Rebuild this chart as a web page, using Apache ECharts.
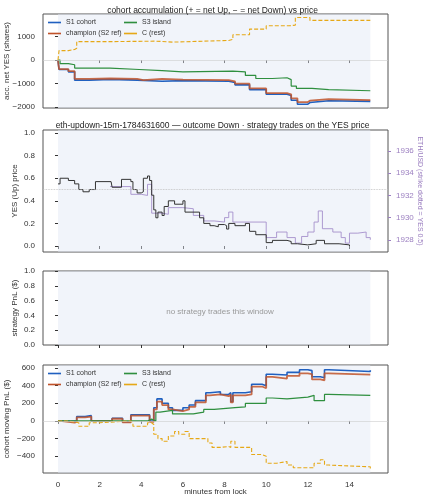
<!DOCTYPE html>
<html><head><meta charset="utf-8">
<script src="https://cdn.jsdelivr.net/npm/echarts@6/dist/echarts.min.js"></script>
<style>html,body{margin:0;padding:0;background:#fff}#c{width:425px;height:500px}</style>
</head><body><div id="c"></div>
<script>
const xTicks=[0,2,4,6,8,10,12,14];
// panel 1: accumulated net YES shares [minute, shares]
const accS1=[[0,0],[0.05,-400],[0.5,-500],[0.8,-850],[1.5,-820],[2.5,-850],[3.8,-900],[5,-870],[6,-900],[8.2,-950],[8.5,-1050],[9.2,-1250],[10,-1450],[11,-1500],[11.2,-1700],[11.5,-1870],[12,-1800],[12.1,-1720],[13,-1750],[15,-1760]];
const accChamp=[[0,0],[0.05,-380],[0.5,-470],[0.8,-800],[1.5,-780],[2.5,-800],[3.8,-850],[4.1,-800],[5,-830],[6,-850],[8.2,-900],[8.5,-1000],[9.2,-1200],[10,-1400],[11,-1450],[11.2,-1620],[11.5,-1780],[12,-1720],[12.1,-1650],[13,-1700],[15,-1700]];
const accS3=[[0,0],[0.1,-150],[0.5,-200],[0.8,-340],[2.5,-400],[3.9,-450],[5,-500],[6,-470],[8.4,-500],[9,-650],[9.5,-780],[10.3,-750],[11,-830],[11.2,-1100],[11.45,-1200],[12.2,-1250],[13,-1300],[15,-1300]];
const accC=[[0,0],[0.05,400],[0.5,450],[0.8,500],[0.9,780],[2.5,800],[4.7,760],[5.5,830],[8.2,880],[8.4,1070],[9.2,1310],[10,1450],[11.1,1480],[11.4,1800],[12.1,1680],[15,1680]];
// panel 2: YES price and ETH/USD
const yesPrice=[[0,0.55],[0.1,0.6],[0.5,0.58],[0.8,0.55],[1,0.5],[1.2,0.48],[1.5,0.5],[1.8,0.57],[2.55,0.56],[2.6,0.52],[3.05,0.59],[3.5,0.57],[3.6,0.5],[3.8,0.47],[4.0,0.48],[4.1,0.6],[4.3,0.62],[4.4,0.58],[4.5,0.45],[4.6,0.32],[4.7,0.25],[4.8,0.3],[5.0,0.27],[5.1,0.35],[5.3,0.4],[5.6,0.37],[6.0,0.4],[6.1,0.3],[6.8,0.25],[7.0,0.2],[7.3,0.18],[7.5,0.17],[7.7,0.19],[8.0,0.18],[8.1,0.15],[8.2,0.2],[8.5,0.18],[9.0,0.2],[9.2,0.13],[9.5,0.1],[10,0.03],[10.3,0.05],[11,0.04],[11.2,0.02],[11.5,0.01],[12,0.02],[12.4,0.05],[12.8,0.02],[13.5,0.01],[14,0]];
const ethUsd=[[2.5,1932.8],[3.5,1932.1],[4.0,1932.0],[4.3,1933],[4.5,1930.4],[5.0,1930.3],[5.3,1930.9],[6,1930.8],[6.5,1930.2],[7,1929.7],[7.5,1929.6],[8,1930.0],[8.2,1930.5],[8.4,1929.6],[10,1928.2],[10.5,1928.7],[11,1928.2],[11.4,1927.7],[11.7,1928.3],[12,1928.7],[12.3,1929.6],[12.5,1930.6],[12.7,1929],[13.2,1928.7],[13.6,1928.2],[13.8,1927.7],[14,1928.6],[14.4,1928.7],[14.8,1928.2],[15,1928.0]];
// panel 4: moving PnL
const pnlS1=[[0,0],[0.8,0],[0.9,50],[1.3,60],[1.6,0],[2.6,30],[3.1,-10],[3.5,70],[4.4,0],[4.6,150],[4.75,250],[5,200],[5.3,150],[5.5,120],[6,150],[6.3,180],[6.6,230],[7.1,320],[7.3,330],[7.8,300],[8.2,320],[8.3,220],[8.4,320],[9,330],[9.3,416],[9.8,400],[10,530],[10.3,520],[11,550],[11.6,580],[12,570],[12.2,500],[12.6,490],[12.8,580],[13,560],[15,575]];
const pnlChamp=[[0,0],[0.1,-20],[0.8,-10],[0.9,40],[1.3,50],[1.6,0],[2.6,25],[3.1,-15],[3.5,60],[4.4,-10],[4.6,130],[4.75,220],[5,180],[5.3,130],[5.5,110],[6,130],[6.3,160],[6.6,210],[7.1,290],[7.3,300],[7.8,280],[8.2,300],[8.3,210],[8.4,290],[9,300],[9.3,390],[9.8,370],[10,500],[10.3,480],[11,510],[11.6,540],[12,530],[12.2,470],[12.6,460],[12.8,540],[13,525],[15,530]];
const pnlS3=[[0,0],[4,0],[4.3,20],[4.5,0],[4.7,100],[4.9,120],[5.5,80],[6.5,100],[7,130],[7.5,150],[8.5,160],[9,200],[10,260],[10.3,250],[11,270],[12,290],[12.3,230],[12.8,300],[13,290],[15,295]];
const pnlC=[[0,0],[0.5,-20],[1,-60],[1.5,-20],[2,0],[3.5,-20],[3.6,-60],[4.3,-20],[4.5,-40],[4.6,-150],[4.8,-200],[5,-230],[5.3,-170],[5.6,-120],[5.8,-150],[6.1,-120],[6.3,-200],[7.2,-250],[7.4,-300],[7.8,-290],[8.2,-300],[8.3,-230],[8.5,-300],[9.3,-380],[9.8,-400],[10,-480],[10.5,-460],[11,-500],[11.3,-530],[12.3,-480],[12.6,-440],[12.8,-500],[13,-520],[15,-540]];

const COL={s1:'#2060c0',ch:'#c0532a',s3:'#2f8f3f',c:'#e6a817'};
const FS=8, TXT='#333';
const fmt=v=>(v<0?'\u2212':'')+Math.abs(v);
const grids=[
 {left:43,right:37,top:14,height:94},
 {left:43,right:37,top:130,height:122},
 {left:43,right:37,top:271,height:74},
 {left:43,right:37,top:365,height:108}];
grids.forEach(g=>{g.show=true;g.borderColor='#555';g.borderWidth=1;g.backgroundColor='#fff';g.containLabel=false;g.outerBoundsMode='none';});
const xAxes=grids.map((g,i)=>({type:'value',gridIndex:i,min:-0.72,max:15.85,
  axisLine:{show:false},axisTick:{show:true,length:3,lineStyle:{color:'#333'},customValues:xTicks},
  axisLabel:{show:i===3,fontSize:FS,color:TXT,customValues:xTicks},
  splitLine:{show:false},nameMoveOverlap:false,
  name:i===3?'minutes from lock':'',nameLocation:'middle',nameGap:15,nameTextStyle:{fontSize:FS,color:TXT}}));
function yax(i,min,max,ticks,name,extra){return Object.assign({type:'value',gridIndex:i,min,max,
 axisLine:{show:false},axisTick:{show:true,length:3,customValues:ticks,lineStyle:{color:'#333'}},
 axisLabel:{fontSize:FS,color:TXT,customValues:ticks,formatter:fmt},splitLine:{show:false},nameMoveOverlap:false,
 name,nameLocation:'middle',nameGap:30,nameTextStyle:{fontSize:FS,color:TXT}},extra||{});}
const f1=v=>v.toFixed(1);
const yAxes=[
 yax(0,-2030,1950,[-2000,-1000,0,1000],'acc. net YES (shares)',{nameGap:32}),
 yax(1,-0.053,1.027,[0,0.2,0.4,0.6,0.8,1.0],'YES (Up) price',{nameGap:24}),
 yax(2,0,1,[0,0.2,0.4,0.6,0.8,1.0],'strategy PnL ($)',{nameGap:24}),
 yax(3,-590,634,[-400,-200,0,200,400,600],'cohort moving PnL ($)',{nameGap:32}),
 {type:'value',gridIndex:1,position:'right',min:1926.9,max:1937.9,axisLine:{show:false},nameMoveOverlap:false,
  axisTick:{show:true,length:3,customValues:[1928,1930,1932,1934,1936],lineStyle:{color:'#9b7fc0'}},
  axisLabel:{fontSize:FS,color:'#9b7fc0',customValues:[1928,1930,1932,1934,1936],formatter:v=>String(v)},splitLine:{show:false},
  name:'ETH/USD (strike dotted = YES 0.5)',nameLocation:'middle',nameGap:28,nameRotate:-90,nameTextStyle:{fontSize:7,color:'#9b7fc0'}}
];
yAxes[1].axisLabel.formatter=f1; yAxes[2].axisLabel.formatter=f1;
function band(){return {silent:true,itemStyle:{color:'rgba(225,230,245,0.45)'},data:[[{xAxis:0},{xAxis:15}]]};}
function zero(y){return {silent:true,symbol:'none',label:{show:false},lineStyle:{color:'#ccc',width:0.6,type:'solid'},data:[{yAxis:y}]};}
function ln(name,data,xi,yi,color,opt){return Object.assign({type:'line',name,data,xAxisIndex:xi,yAxisIndex:yi,step:'end',showSymbol:false,symbol:'none',animation:false,
 lineStyle:{color,width:1.2},itemStyle:{color}},opt||{});}
const series=[
 ln('S1 cohort',accS1,0,0,COL.s1,{lineStyle:{color:COL.s1,width:1.6},markArea:band(),markLine:zero(0)}),
 ln('champion (S2 ref)',accChamp,0,0,COL.ch,{lineStyle:{color:COL.ch,width:1.8,opacity:0.85}}),
 ln('S3 island',accS3,0,0,COL.s3),
 ln('C (rest)',accC,0,0,COL.c,{lineStyle:{color:COL.c,width:1.1,type:[4,2]}}),
 ln('eth',ethUsd,1,4,'#a590cc',{lineStyle:{color:'#a590cc',width:0.9},markArea:band()}),
 ln('yes',yesPrice,1,1,'#333',{lineStyle:{color:'#333',width:1},markLine:{silent:true,symbol:'none',label:{show:false},lineStyle:{color:'#bbb',width:0.8,type:'dotted'},data:[{yAxis:0.5}]}}),
 {type:'line',data:[],xAxisIndex:2,yAxisIndex:2,markArea:band()},
 ln('S1 cohort',pnlS1,3,3,COL.s1,{lineStyle:{color:COL.s1,width:1.6},markArea:band(),markLine:zero(0)}),
 ln('champion (S2 ref)',pnlChamp,3,3,COL.ch,{lineStyle:{color:COL.ch,width:1.8,opacity:0.85}}),
 ln('S3 island',pnlS3,3,3,COL.s3),
 ln('C (rest)',pnlC,3,3,COL.c,{lineStyle:{color:COL.c,width:1.1,type:[4,2]}})
];
function lg(name,left,top){return {data:[{name,icon:'path://M0,0H16V2H0Z'}],left,top,itemWidth:13,itemHeight:2,itemGap:4,selectedMode:false,padding:0,textStyle:{fontSize:7,color:TXT}};}
const legend=[lg('S1 cohort',48,19),lg('champion (S2 ref)',48,30),lg('S3 island',124,19),lg('C (rest)',124,30),
 lg('S1 cohort',48,370),lg('champion (S2 ref)',48,381),lg('S3 island',124,370),lg('C (rest)',124,381)];
const chart=echarts.init(document.getElementById('c'),null,{renderer:'canvas'});
chart.setOption({animation:false,backgroundColor:'#fff',
 title:[{text:'cohort accumulation (+ = net Up, − = net Down) vs price',left:'center',top:1,textStyle:{fontSize:8.5,fontWeight:'normal',color:'#222'}},
  {text:'eth-updown-15m-1784631600 — outcome Down · strategy trades on the YES price',left:'center',top:116,textStyle:{fontSize:8.5,fontWeight:'normal',color:'#222'}},
  {text:'no strategy trades this window',left:215,top:303,textAlign:'center',textStyle:{fontSize:8,fontWeight:'normal',color:'#999'}}],
 grid:grids,xAxis:xAxes,yAxis:yAxes,legend,series});
</script></body></html>
